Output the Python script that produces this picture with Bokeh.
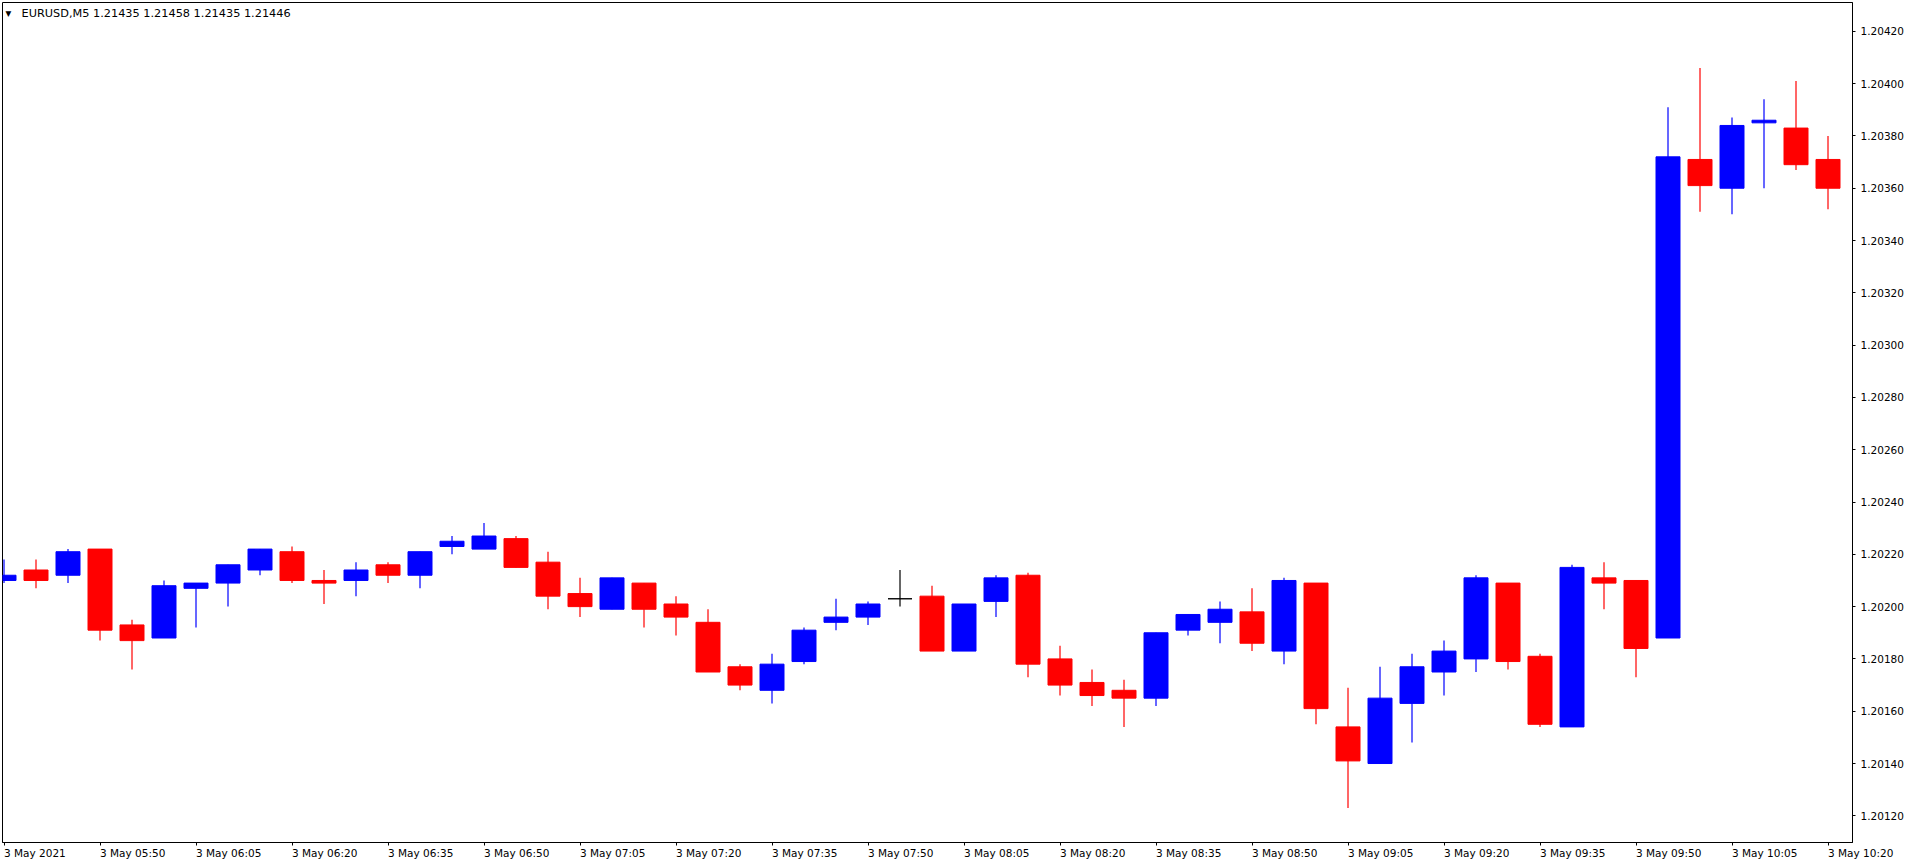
import pandas as pd
from bokeh.plotting import figure
from bokeh.layouts import column
from bokeh.models import ColumnDataSource, FixedTicker, PrintfTickFormatter, Range1d, Label
from bokeh.core.properties import value
from bokeh.embed import file_html
from bokeh.resources import INLINE

# ---- data -------------------------------------------------------------
times = pd.date_range("2021-05-03 05:35", periods=58, freq="5min").strftime("%H:%M").tolist()

open_ = [1.20210, 1.20214, 1.20212, 1.20222, 1.20193, 1.20188, 1.20207, 1.20209, 1.20214, 1.20221,
         1.20210, 1.20210, 1.20216, 1.20212, 1.20223, 1.20222, 1.20226, 1.20217, 1.20205, 1.20199,
         1.20209, 1.20201, 1.20194, 1.20177, 1.20168, 1.20179, 1.20194, 1.20196, 1.20203, 1.20204,
         1.20183, 1.20202, 1.20212, 1.20180, 1.20171, 1.20168, 1.20165, 1.20191, 1.20194, 1.20198,
         1.20183, 1.20209, 1.20154, 1.20140, 1.20163, 1.20175, 1.20180, 1.20209, 1.20181, 1.20154,
         1.20211, 1.20210, 1.20188, 1.20371, 1.20360, 1.20385, 1.20383, 1.20371]
high = [1.20218, 1.20218, 1.20222, 1.20222, 1.20195, 1.20210, 1.20209, 1.20216, 1.20222, 1.20223,
        1.20214, 1.20217, 1.20217, 1.20221, 1.20227, 1.20232, 1.20227, 1.20221, 1.20211, 1.20211,
        1.20209, 1.20204, 1.20199, 1.20178, 1.20182, 1.20192, 1.20203, 1.20202, 1.20214, 1.20208,
        1.20201, 1.20212, 1.20213, 1.20185, 1.20176, 1.20172, 1.20190, 1.20197, 1.20202, 1.20207,
        1.20211, 1.20209, 1.20169, 1.20177, 1.20182, 1.20187, 1.20212, 1.20209, 1.20182, 1.20216,
        1.20217, 1.20210, 1.20391, 1.20406, 1.20387, 1.20394, 1.20401, 1.20380]
low = [1.20209, 1.20207, 1.20209, 1.20187, 1.20176, 1.20188, 1.20192, 1.20200, 1.20212, 1.20209,
       1.20201, 1.20204, 1.20209, 1.20207, 1.20220, 1.20222, 1.20215, 1.20199, 1.20196, 1.20199,
       1.20192, 1.20189, 1.20175, 1.20168, 1.20163, 1.20178, 1.20191, 1.20193, 1.20200, 1.20183,
       1.20183, 1.20196, 1.20173, 1.20166, 1.20162, 1.20154, 1.20162, 1.20189, 1.20186, 1.20183,
       1.20178, 1.20155, 1.20123, 1.20140, 1.20148, 1.20166, 1.20175, 1.20176, 1.20154, 1.20154,
       1.20199, 1.20173, 1.20188, 1.20351, 1.20350, 1.20360, 1.20367, 1.20352]
close = [1.20212, 1.20210, 1.20221, 1.20191, 1.20187, 1.20208, 1.20209, 1.20216, 1.20222, 1.20210,
         1.20209, 1.20214, 1.20212, 1.20221, 1.20225, 1.20227, 1.20215, 1.20204, 1.20200, 1.20211,
         1.20199, 1.20196, 1.20175, 1.20170, 1.20178, 1.20191, 1.20196, 1.20201, 1.20203, 1.20183,
         1.20201, 1.20211, 1.20178, 1.20170, 1.20166, 1.20165, 1.20190, 1.20197, 1.20199, 1.20186,
         1.20210, 1.20161, 1.20141, 1.20165, 1.20177, 1.20183, 1.20211, 1.20179, 1.20155, 1.20215,
         1.20209, 1.20184, 1.20372, 1.20361, 1.20384, 1.20386, 1.20369, 1.20360]

tick_times = ["05:35", "05:50", "06:05", "06:20", "06:35", "06:50", "07:05", "07:20", "07:35", "07:50",
              "08:05", "08:20", "08:35", "08:50", "09:05", "09:20", "09:35", "09:50", "10:05", "10:20"]
tick_labels = ["3 May 2021", "3 May 05:50", "3 May 06:05", "3 May 06:20", "3 May 06:35",
               "3 May 06:50", "3 May 07:05", "3 May 07:20", "3 May 07:35", "3 May 07:50",
               "3 May 08:05", "3 May 08:20", "3 May 08:35", "3 May 08:50", "3 May 09:05",
               "3 May 09:20", "3 May 09:35", "3 May 09:50", "3 May 10:05", "3 May 10:20"]
y_ticks = [1.20120, 1.20140, 1.20160, 1.20180, 1.20200, 1.20220, 1.20240, 1.20260,
           1.20280, 1.20300, 1.20320, 1.20340, 1.20360, 1.20380, 1.20400, 1.20420]
header = "EURUSD,M5  1.21435 1.21458 1.21435 1.21446"

BULL, BEAR, DOJI = "#0000FF", "#FF0000", "#000000"
FONT = "DejaVu Sans"

# ---- build --------------------------------------------------------------
idx = list(range(len(times)))
colors = [BULL if c > o else (BEAR if c < o else DOJI) for o, c in zip(open_, close)]
src = ColumnDataSource(dict(
    x=idx, open=open_, high=high, low=low, close=close,
    top=[max(o, c) for o, c in zip(open_, close)],
    bottom=[min(o, c) for o, c in zip(open_, close)],
    color=colors))

FRAME_W, FRAME_H = 1850, 840
PX_PER_BAR = 32.0
X0 = -0.047                      # puts candle centres on pixel centres
Y0, Y1 = 1.201098, 1.2043102
p = figure(frame_width=FRAME_W, frame_height=FRAME_H,
           min_border_left=2, min_border_top=2, min_border_right=54, min_border_bottom=4,
           x_range=Range1d(X0, X0 + FRAME_W / PX_PER_BAR), y_range=Range1d(Y0, Y1),
           y_axis_location="right", output_backend="svg", toolbar_location=None)
p.background_fill_color = "white"
p.border_fill_color = "white"
p.outline_line_color = "black"
p.outline_line_width = 1
p.outline_line_alpha = 1
p.xgrid.visible = False
p.ygrid.visible = False

p.segment(x0="x", y0="low", x1="x", y1="high", line_color="color", line_width=1.2, source=src)
p.vbar(x="x", width=0.75, top="top", bottom="bottom", fill_color="color",
       line_color="color", line_width=1, source=src)

tick_pos = [times.index(t) for t in tick_times]

xa = p.xaxis[0]
xa.ticker = FixedTicker(ticks=tick_pos)
xa.major_label_text_font_size = "1px"
xa.major_label_text_color = None
xa.major_tick_out = 3
xa.major_tick_in = 0
xa.minor_tick_out = 0
xa.minor_tick_in = 0
xa.axis_line_color = "black"
xa.major_tick_line_color = "black"
xa.major_label_standoff = 0

ya = p.yaxis[0]
ya.ticker = FixedTicker(ticks=y_ticks)
ya.formatter = PrintfTickFormatter(format="%.5f")
ya.major_tick_out = 3
ya.major_tick_in = 0
ya.minor_tick_out = 0
ya.minor_tick_in = 0
ya.major_label_standoff = 5
ya.axis_line_color = "black"
ya.major_tick_line_color = "black"
ya.major_label_text_font = FONT
ya.major_label_text_font_size = "10.5px"
ya.major_label_text_color = "black"

# header line (top-left, inside the chart window)
px_per_y = FRAME_H / (Y1 - Y0)
hdr_src = ColumnDataSource(dict(x=[X0 + 19 / PX_PER_BAR], y=[Y1 - 10.5 / px_per_y], text=[header]))
p.text(x="x", y="y", text="text", source=hdr_src, text_align="left", text_baseline="middle",
       text_font=value(FONT), text_font_size="11.3px", text_color="black")
p.add_layout(Label(x=3, y=FRAME_H - 11, x_units="screen", y_units="screen", text="\u25BC",
                   text_align="left", text_baseline="middle", text_font=FONT,
                   text_font_size="7.5px", text_color="black"))

# ---- time-axis labels strip (left-aligned at each tick, like MT4) ---------
STRIP_W, STRIP_H = 1904, 17
q = figure(frame_width=STRIP_W, frame_height=STRIP_H,
           min_border_left=2, min_border_top=0, min_border_right=0, min_border_bottom=0,
           x_range=Range1d(X0, X0 + STRIP_W / PX_PER_BAR), y_range=Range1d(0, STRIP_H),
           output_backend="svg", toolbar_location=None)
q.axis.visible = False
q.grid.visible = False
q.outline_line_color = None
q.background_fill_color = "white"
q.border_fill_color = "white"
lab_src = ColumnDataSource(dict(x=tick_pos, y=[STRIP_H] * len(tick_pos), text=tick_labels))
q.text(x="x", y="y", text="text", source=lab_src, text_align="left", text_baseline="top",
       text_font=value(FONT), text_font_size="10.5px", text_color="black")

layout = column(p, q, spacing=0)
open("out.html", "w").write(file_html(layout, INLINE))
